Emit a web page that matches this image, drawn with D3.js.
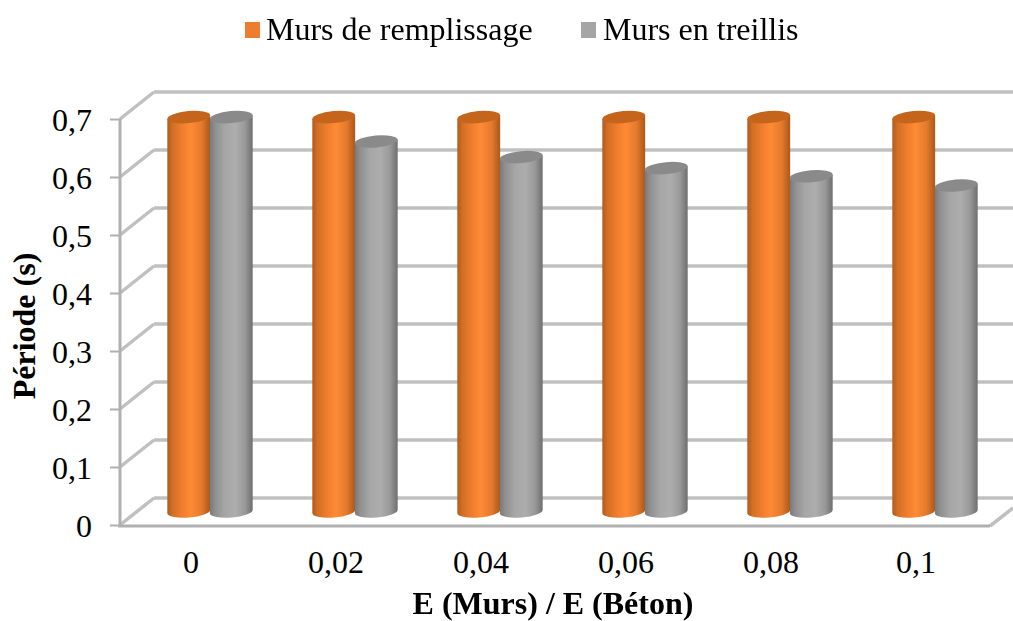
<!DOCTYPE html>
<html><head><meta charset="utf-8">
<script src="https://cdn.jsdelivr.net/npm/d3@7"></script>
<style>html,body{margin:0;padding:0;background:#fff;overflow:hidden}text{font-family:"Liberation Serif",serif;fill:#000}</style>
</head><body><svg id="c" width="1013" height="621"></svg>
<script>
const categories = ["0","0,02","0,04","0,06","0,08","0,1"];
const seriesNames = ["Murs de remplissage","Murs en treillis"];
const remplissage = [0.68,0.68,0.68,0.68,0.68,0.68];
const treillis = [0.68,0.638,0.611,0.592,0.578,0.562];
const yTicks = [0,0.1,0.2,0.3,0.4,0.5,0.6,0.7];

const svg = d3.select("#c");
const front = {l:120,r:990,b:525,t:119};
const depth = {x:34,y:27};
const x = d3.scaleBand().domain(categories).range([front.l,front.r]);
const xs = d3.scaleBand().domain(seriesNames).range([-42.5,42.5]);
const y = d3.scaleLinear().domain([0,0.7]).range([front.b,front.t]);
const fmt = d => String(+d.toFixed(1)).replace(".",",");

const defs = svg.append("defs");
function grad(id,stops){
  const g=defs.append("linearGradient").attr("id",id).attr("x1",0).attr("x2",1).attr("y1",0).attr("y2",0);
  stops.forEach(s=>g.append("stop").attr("offset",s[0]).attr("stop-color",s[1]));
}
grad("go",[[0,"#b05a1c"],[0.12,"#d16f25"],[0.35,"#f07e2e"],[0.55,"#ff8a35"],[0.8,"#e47a2c"],[1,"#a9581c"]]);
grad("gg",[[0,"#787878"],[0.12,"#8f8f8f"],[0.35,"#a6a6a6"],[0.6,"#adadad"],[0.82,"#999"],[1,"#6e6e6e"]]);
defs.append("filter").attr("id","soft").append("feGaussianBlur").attr("stdDeviation",0.5);

const gridC="#c0c0c0", gw=3.5;
const grid=svg.append("g");
grid.selectAll(".b").data(yTicks).join("line")
  .attr("x1",front.l+depth.x).attr("x2",1013)
  .attr("y1",d=>y(d)-depth.y).attr("y2",d=>y(d)-depth.y)
  .attr("stroke",gridC).attr("stroke-width",gw);
grid.selectAll(".d").data(yTicks).join("line")
  .attr("x1",front.l).attr("x2",front.l+depth.x)
  .attr("y1",d=>y(d)).attr("y2",d=>y(d)-depth.y)
  .attr("stroke",gridC).attr("stroke-width",gw);
grid.append("line").attr("x1",front.r).attr("x2",1013).attr("y1",y(0)+1).attr("y2",y(0)-17)
  .attr("stroke",gridC).attr("stroke-width",gw);
const yAxis=d3.axisLeft(y).tickValues(yTicks).tickFormat(fmt).tickSize(10).tickPadding(18);
const ya=svg.append("g").attr("transform",`translate(${front.l},0)`).call(yAxis);
ya.select(".domain").attr("stroke","#b0b0b0").attr("stroke-width",3).attr("d",`M0,${y(0.7)}V${y(0)+1}`);
ya.selectAll(".tick line").attr("stroke","#b0b0b0").attr("stroke-width",2);
ya.selectAll("text").style("font-family",'"Liberation Serif",serif').style("font-size","32px").attr("fill","#000").attr("dy","0.35em");
svg.append("line").attr("x1",front.l-2).attr("x2",front.r).attr("y1",y(0)+1).attr("y2",y(0)+1).attr("stroke","#b0b0b0").attr("stroke-width",3);
svg.append("g").selectAll("text").data(categories).join("text")
  .attr("x",d=>x(d)+x.bandwidth()/2-1.5).attr("y",572.5).attr("text-anchor","middle")
  .style("font-size","32px").text(d=>d);

const midX=depth.x/2+0.5, midY=13.5;
const rx=21.5, ry=6, tilt=-5;
const cs=Math.cos(tilt*Math.PI/180)*rx, sn=Math.sin(tilt*Math.PI/180)*rx;
const rows=[];
categories.forEach((c,i)=>{
  rows.push({c,s:seriesNames[0],v:remplissage[i],fill:"url(#go)",top:"#c5651f"});
  rows.push({c,s:seriesNames[1],v:treillis[i],fill:"url(#gg)",top:"#8a8a8a"});
});
const bars=svg.append("g").attr("filter","url(#soft)");
const g=bars.selectAll("g").data(rows).join("g")
  .attr("transform",d=>`translate(${x(d.c)+x.bandwidth()/2+midX+xs(d.s)+xs.bandwidth()/2},0)`);
g.append("path").attr("fill",d=>d.fill).attr("d",d=>{
  const yt=y(d.v)-midY, yb=y(0)-midY;
  return `M${-cs},${yt-sn}L${-cs},${yb-sn}A${rx},${ry} ${tilt} 0 0 ${cs},${yb+sn}L${cs},${yt+sn}Z`;
});
g.append("ellipse").attr("rx",rx).attr("ry",ry).attr("fill",d=>d.top)
  .attr("transform",d=>`translate(0,${y(d.v)-midY}) rotate(${tilt})`);

const legendX=[245,581], legendTextX=[266,603], legendFill=["#ed7d31","#a5a5a5"];
const leg=svg.append("g").selectAll("g").data(seriesNames).join("g");
leg.append("rect").attr("x",(d,i)=>legendX[i]).attr("y",22).attr("width",15).attr("height",16).attr("fill",(d,i)=>legendFill[i]);
leg.append("text").attr("x",(d,i)=>legendTextX[i]).attr("y",40).style("font-size","32px").text(d=>d);

svg.append("text").attr("x",553).attr("y",614).attr("text-anchor","middle").style("font-size","32px").style("font-weight","bold").text("E (Murs) / E (Béton)");
svg.append("text").attr("transform","translate(35,326) rotate(-90)").attr("text-anchor","middle").style("font-size","32px").style("font-weight","bold").text("Période (s)");
</script></body></html>
